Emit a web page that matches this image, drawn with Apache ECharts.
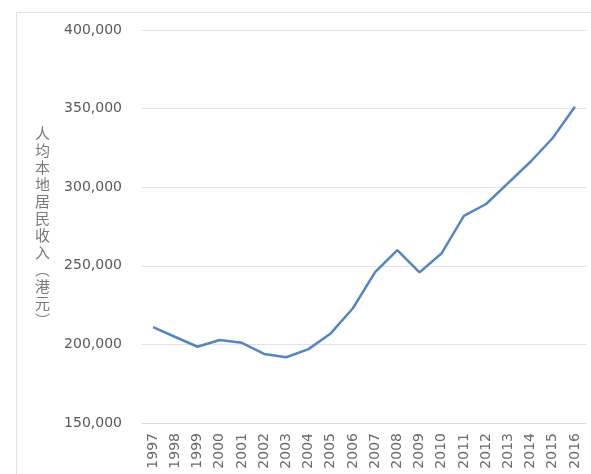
<!DOCTYPE html>
<html><head><meta charset="utf-8">
<script src="https://cdn.jsdelivr.net/npm/echarts@6/dist/echarts.min.js"></script>
<style>html,body{margin:0;padding:0;background:#fff}#c{width:591px;height:474px}</style>
</head><body><div id="c"></div>
<script>
const years = ['1997','1998','1999','2000','2001','2002','2003','2004','2005','2006','2007','2008','2009','2010','2011','2012','2013','2014','2015','2016'];
const income = [211000,204700,198500,202800,201000,193900,191800,197000,207000,223000,246000,260000,245800,258000,281700,289300,302700,316200,331300,351200];
const yTitle = '人均本地居民收入︵港元︶';
const yMin = 150000, yMax = 400000, yStep = 50000;

const chart = echarts.init(document.getElementById('c'));
chart.setOption({
  animation: false,
  graphic: [{type:'rect', shape:{x:16.5,y:12.5,width:600,height:500}, style:{fill:'none', stroke:'#e3e3e3', lineWidth:1}, silent:true}],
  grid: {left:142, right:5, top:30, bottom:51},
  xAxis: {
    type:'category', data: years, boundaryGap:true,
    axisLine:{lineStyle:{color:'#d9d9d9'}}, axisTick:{show:false},
    axisLabel:{rotate:90, color:'#6a6a6a', fontFamily:'DejaVu Sans', fontSize:14, margin:10}
  },
  yAxis: {
    type:'value', min:yMin, max:yMax, interval:yStep,
    name: yTitle.split('').join('\n'), nameLocation:'middle', nameRotate:0, nameGap:92,
    nameTextStyle:{color:'#7a7a7a', fontFamily:'Noto Sans CJK SC', fontSize:15, lineHeight:17},
    axisLine:{show:false}, axisTick:{show:false},
    splitLine:{lineStyle:{color:'#e3e3e3'}},
    axisLabel:{color:'#595959', fontFamily:'DejaVu Sans', fontSize:14, margin:20,
      formatter: v => v.toLocaleString('en-US')}
  },
  series: [{type:'line', data: income, symbol:'none', lineStyle:{color:'#5585c2', width:2.5}}]
});
</script></body></html>
